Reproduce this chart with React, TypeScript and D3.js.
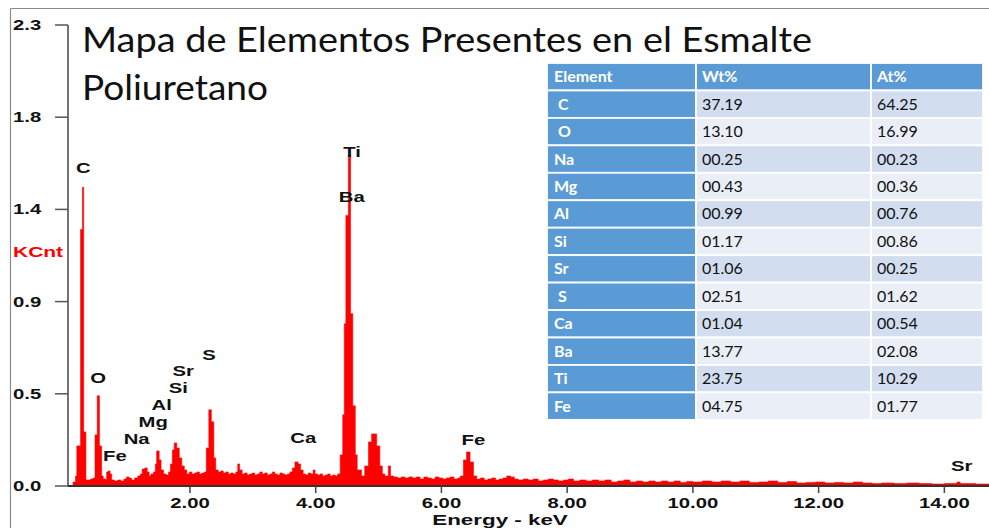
import React from "react";
import * as d3 from "d3";

// ---------- data ----------
// EDS spectrum: [energy keV, KCnt]
const spectrum: [number, number][] = [
  [0.10, 0.00], [0.14, 0.02], [0.18, 0.05], [0.20, 0.20], [0.26, 1.28], [0.29, 1.49],
  [0.31, 0.27], [0.345, 0.03], [0.38, 0.03], [0.42, 0.035], [0.46, 0.04], [0.49, 0.255],
  [0.525, 0.45], [0.56, 0.20], [0.595, 0.05], [0.62, 0.035], [0.66, 0.03], [0.675, 0.07],
  [0.70, 0.075], [0.73, 0.06], [0.755, 0.03], [0.80, 0.025], [0.85, 0.03], [0.90, 0.025],
  [0.95, 0.035], [0.99, 0.045], [1.03, 0.04], [1.07, 0.03], [1.12, 0.04], [1.17, 0.05],
  [1.21, 0.06], [1.24, 0.085], [1.28, 0.09], [1.32, 0.07], [1.35, 0.05], [1.38, 0.06],
  [1.42, 0.07], [1.45, 0.11], [1.47, 0.175], [1.51, 0.13], [1.54, 0.08], [1.58, 0.06],
  [1.62, 0.055], [1.66, 0.07], [1.69, 0.11], [1.72, 0.18], [1.75, 0.215], [1.79, 0.19],
  [1.83, 0.14], [1.87, 0.10], [1.91, 0.08], [1.95, 0.06], [1.99, 0.07], [2.03, 0.06],
  [2.07, 0.065], [2.11, 0.07], [2.15, 0.06], [2.19, 0.065], [2.23, 0.07], [2.26, 0.19],
  [2.30, 0.38], [2.34, 0.32], [2.38, 0.14], [2.41, 0.08], [2.45, 0.07], [2.49, 0.075],
  [2.53, 0.065], [2.57, 0.07], [2.61, 0.06], [2.65, 0.065], [2.69, 0.06], [2.73, 0.07],
  [2.76, 0.11], [2.79, 0.08], [2.83, 0.06], [2.87, 0.065], [2.91, 0.055], [2.95, 0.06],
  [2.99, 0.065], [3.03, 0.055], [3.07, 0.06], [3.11, 0.07], [3.15, 0.06], [3.19, 0.065],
  [3.23, 0.055], [3.27, 0.06], [3.31, 0.07], [3.35, 0.06], [3.39, 0.055], [3.43, 0.065],
  [3.47, 0.06], [3.51, 0.055], [3.55, 0.06], [3.59, 0.07], [3.63, 0.09], [3.67, 0.12],
  [3.72, 0.11], [3.76, 0.08], [3.80, 0.06], [3.84, 0.055], [3.88, 0.065], [3.92, 0.06],
  [3.96, 0.08], [3.99, 0.06], [4.03, 0.055], [4.07, 0.06], [4.11, 0.05], [4.15, 0.055],
  [4.19, 0.06], [4.23, 0.05], [4.27, 0.055], [4.31, 0.05], [4.35, 0.06], [4.39, 0.155],
  [4.43, 0.355], [4.455, 0.81], [4.48, 1.35], [4.52, 1.65], [4.555, 0.86], [4.59, 0.40],
  [4.63, 0.155], [4.66, 0.08], [4.73, 0.05], [4.78, 0.10], [4.84, 0.22], [4.89, 0.26],
  [4.97, 0.20], [5.02, 0.10], [5.06, 0.06], [5.10, 0.05], [5.155, 0.10], [5.19, 0.05],
  [5.24, 0.045], [5.30, 0.04], [5.36, 0.045], [5.42, 0.04], [5.48, 0.045], [5.54, 0.04],
  [5.60, 0.045], [5.66, 0.035], [5.72, 0.045], [5.78, 0.04], [5.84, 0.035], [5.90, 0.045],
  [5.96, 0.04], [6.02, 0.035], [6.08, 0.04], [6.14, 0.045], [6.20, 0.035], [6.26, 0.04],
  [6.30, 0.05], [6.35, 0.13], [6.40, 0.17], [6.455, 0.12], [6.51, 0.05], [6.56, 0.035],
  [6.62, 0.04], [6.68, 0.03], [6.74, 0.035], [6.80, 0.04], [6.86, 0.03], [6.92, 0.035],
  [6.98, 0.04], [7.04, 0.05], [7.10, 0.045], [7.16, 0.035], [7.22, 0.03], [7.30, 0.035],
  [7.38, 0.03], [7.46, 0.035], [7.54, 0.025], [7.62, 0.03], [7.70, 0.035], [7.78, 0.03],
  [7.86, 0.025], [7.94, 0.03], [8.02, 0.035], [8.10, 0.025], [8.20, 0.03], [8.30, 0.025],
  [8.40, 0.03], [8.50, 0.025], [8.60, 0.03], [8.70, 0.02], [8.80, 0.025], [8.90, 0.03],
  [9.00, 0.02], [9.10, 0.025], [9.20, 0.02], [9.30, 0.025], [9.40, 0.02], [9.50, 0.025],
  [9.60, 0.02], [9.70, 0.025], [9.80, 0.018], [9.90, 0.022], [10.00, 0.02], [10.15, 0.025],
  [10.30, 0.02], [10.45, 0.025], [10.60, 0.02], [10.75, 0.025], [10.90, 0.018], [11.05, 0.02],
  [11.20, 0.025], [11.35, 0.018], [11.50, 0.022], [11.65, 0.015], [11.80, 0.018], [11.95, 0.02],
  [12.10, 0.015], [12.25, 0.018], [12.40, 0.015], [12.55, 0.02], [12.70, 0.015], [12.85, 0.012],
  [13.00, 0.015], [13.20, 0.012], [13.40, 0.015], [13.60, 0.012], [13.80, 0.01], [14.00, 0.012],
  [14.20, 0.02], [14.25, 0.012], [14.50, 0.01], [14.71, 0.01],
];

// peak labels: [label, keV, KCnt level of baseline]
const peakLabels: [string, number, number][] = [
  ["C", 0.302, 1.562], ["O", 0.541, 0.514], ["Fe", 0.807, 0.126], ["Na", 1.152, 0.21],
  ["Mg", 1.416, 0.296], ["Al", 1.55, 0.379], ["Si", 1.814, 0.463], ["Sr", 1.893, 0.55],
  ["S", 2.302, 0.629], ["Ca", 3.803, 0.216], ["Ti", 4.58, 1.643], ["Ba", 4.573, 1.416],
  ["Fe", 6.508, 0.205], ["Sr", 14.275, 0.076],
];

const yTickValues = [0, 0.46, 0.92, 1.38, 1.84, 2.3];
const yTickLabels = ["0.0", "0.5", "0.9", "1.4", "1.8", "2.3"];
const xTickValues = [2, 4, 6, 8, 10, 12, 14];
const xTickLabels = ["2.00", "4.00", "6.00", "8.00", "10.00", "12.00", "14.00"];

const titleLines = ["Mapa de Elementos Presentes en el Esmalte", "Poliuretano"];

const tableHeader = ["Element", "Wt%", "At%"];
const elements = [" C", " O", "Na", "Mg", "Al", "Si", "Sr", " S", "Ca", "Ba", "Ti", "Fe"];
const wtPct = ["37.19", "13.10", "00.25", "00.43", "00.99", "01.17", "01.06", "02.51", "01.04", "13.77", "23.75", "04.75"];
const atPct = ["64.25", "16.99", "00.23", "00.36", "00.76", "00.86", "00.25", "01.62", "00.54", "02.08", "10.29", "01.77"];

// ---------- chart ----------
const W = 989;
const H = 528;
const LBL = "'Liberation Sans', Arial, Helvetica, sans-serif";
const SX = 1.45;

export default function App() {
  const x = d3.scaleLinear().domain([0.06, 14.71]).range([68, 989]);
  const y = d3.scaleLinear().domain([0, 2.3]).range([486, 25]);

  const area = d3
    .area<[number, number]>()
    .x((d) => x(d[0]))
    .y0(y(0))
    .y1((d) => y(d[1]))
    .curve(d3.curveStepAfter);

  // table geometry
  const tX = [547, 696, 871, 983];
  const tTop = 63;
  const rowH = 27.45;

  return (
    <svg
      width={W}
      height={H}
      viewBox={`0 0 ${W} ${H}`}
      style={{ position: "absolute", left: 0, top: 0, background: "#fff" }}
    >
      {/* frame */}
      <line x1={10.5} y1={8.5} x2={W} y2={8.5} stroke="#8a8a8a" strokeWidth={1.2} />
      <line x1={10.5} y1={8.5} x2={10.5} y2={H} stroke="#8a8a8a" strokeWidth={1.2} />

      {/* title */}
      <text x={82} y={52} fontFamily="Lato, 'Open Sans', sans-serif" fontSize={34} fill="#111"
        textLength={730} lengthAdjust="spacingAndGlyphs">{titleLines[0]}</text>
      <text x={82} y={100} fontFamily="Lato, 'Open Sans', sans-serif" fontSize={34} fill="#111"
        textLength={186} lengthAdjust="spacingAndGlyphs">{titleLines[1]}</text>

      {/* spectrum */}
      <path d={area(spectrum) || ""} fill="#ff0000" stroke="#ff0000" strokeWidth={0.6} />

      {/* axes */}
      <line x1={68} y1={y(2.3)} x2={68} y2={y(0)} stroke="#444" strokeWidth={1.5} />
      <line x1={68} y1={y(0)} x2={W} y2={y(0)} stroke="#333" strokeWidth={2.2} />
      {yTickValues.map((v, i) => (
        <g key={"yt" + i}>
          <line x1={55} x2={68} y1={y(v)} y2={y(v)} stroke="#555" strokeWidth={1.5} />
          <text transform={`translate(13,${y(v) + 5}) scale(${SX},1)`} fontFamily={LBL}
            fontWeight="bold" fontSize={14} fill="#111">{yTickLabels[i]}</text>
        </g>
      ))}
      {xTickValues.map((v, i) => (
        <g key={"xt" + i}>
          <line x1={x(v)} x2={x(v)} y1={y(0)} y2={y(0) + 7} stroke="#444" strokeWidth={1.5} />
          <text transform={`translate(${x(v)},507.5) scale(${SX},1)`} textAnchor="middle"
            fontFamily={LBL} fontWeight="bold" fontSize={14} fill="#111">{xTickLabels[i]}</text>
        </g>
      ))}
      <text transform={`translate(500,524.5) scale(1.6,1)`} textAnchor="middle" fontFamily={LBL}
        fontWeight="bold" fontSize={14} fill="#111">Energy - keV</text>
      <text transform={`translate(13,257) scale(1.5,1)`} fontFamily={LBL} fontWeight="bold"
        fontSize={14} fill="#ff0000">KCnt</text>

      {/* peak labels */}
      {peakLabels.map(([name, e, v], i) => (
        <text key={"pl" + i} transform={`translate(${x(e)},${y(v)}) scale(${SX},1)`}
          textAnchor="middle" fontFamily={LBL} fontWeight="bold" fontSize={14} fill="#111">
          {name}
        </text>
      ))}

      {/* table */}
      <g fontFamily="Lato, 'Open Sans', sans-serif" fontSize={16}>
        {[tableHeader, ...elements.map((el, i) => [el, wtPct[i], atPct[i]])].map((row, r) => {
          const top = tTop + r * rowH;
          const band = r === 0 ? "#5b9bd5" : r % 2 === 1 ? "#d2deef" : "#eaeff7";
          return (
            <g key={"row" + r}>
              {[0, 1, 2].map((c) => (
                <rect key={c} x={tX[c]} y={top} width={tX[c + 1] - tX[c]} height={rowH}
                  fill={r === 0 || c === 0 ? "#5b9bd5" : band} stroke="#fff" strokeWidth={1.8} />
              ))}
              {row.map((txt, c) => (
                <text key={"t" + c} x={tX[c] + (c === 0 ? 7 : 6)} y={top + rowH / 2 + 5.5}
                  fill={r === 0 || c === 0 ? "#fff" : "#111"}
                  fontWeight={r === 0 || c === 0 ? "bold" : "normal"}
                  style={{ whiteSpace: "pre" }}>
                  {txt}
                </text>
              ))}
            </g>
          );
        })}
      </g>
    </svg>
  );
}
